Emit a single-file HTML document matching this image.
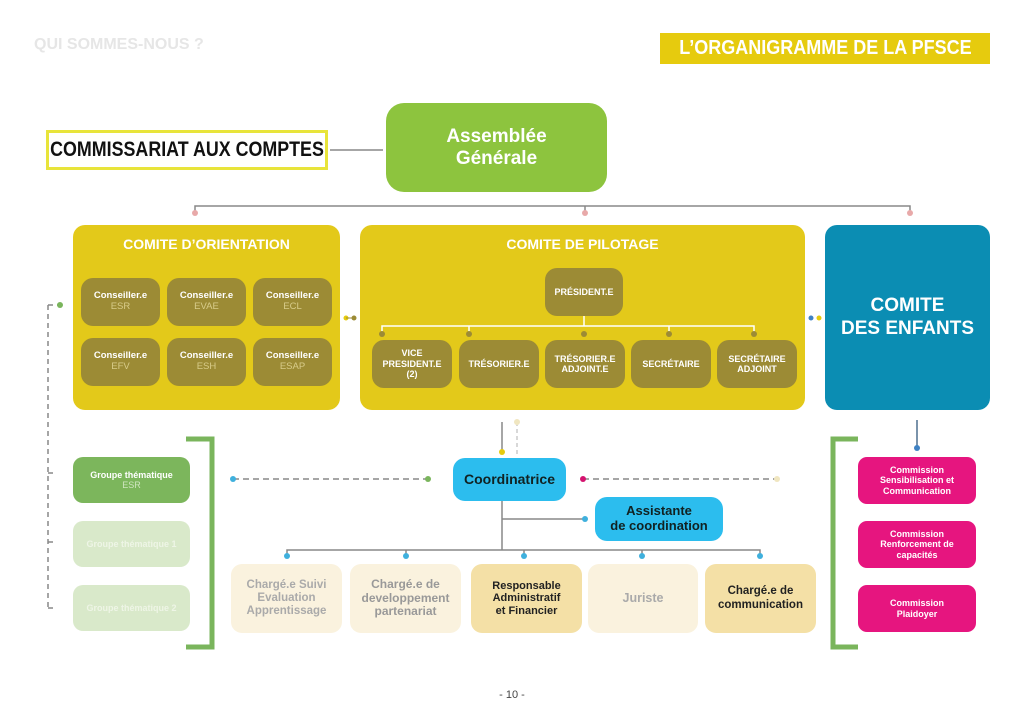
<!DOCTYPE html>
<html><head><meta charset="utf-8"><style>
*{margin:0;padding:0;box-sizing:border-box}
body{width:1024px;height:722px;background:#fff;position:relative;overflow:hidden;font-family:"Liberation Sans",sans-serif}
.b{position:absolute;display:flex;align-items:center;justify-content:center;text-align:center;font-weight:bold;line-height:1.15}
.c{background:#9c8b35;color:#fff;border-radius:12px;font-size:9.5px;flex-direction:column}
.c span{font-weight:normal;color:#d8cc8a}
.p{background:#9c8b35;color:#fff;border-radius:12px;font-size:9px}
.m{background:#e6157f;color:#fff;border-radius:9px;font-size:9px}
.w{border-radius:11px;font-size:12px}
svg{position:absolute;left:0;top:0}
</style></head><body>
<div class="b" style="left:34px;top:36px;font-size:16px;color:#e6e6e6;justify-content:flex-start">QUI SOMMES-NOUS ?</div>
<div class="b" style="left:660px;top:33px;width:330px;height:31px;background:#e6cb0e;color:#fff;font-size:20px;white-space:nowrap"><span style="display:inline-block;transform:scaleX(0.9)">L’ORGANIGRAMME DE LA PFSCE</span></div>
<div class="b" style="left:46px;top:130px;width:282px;height:40px;border:3px solid #e8e43a;color:#111;font-size:21px;white-space:nowrap"><span style="display:inline-block;transform:scaleX(0.85)">COMMISSARIAT AUX COMPTES</span></div>
<div class="b" style="left:386px;top:103px;width:221px;height:89px;background:#8dc43e;color:#fff;border-radius:18px;font-size:19px">Assemblée<br>Générale</div>

<svg width="1024" height="722">
<g stroke="#888" stroke-width="1.5" fill="none">
<line x1="330" y1="150" x2="383" y2="150"/>
<path d="M195 213V206H910V213M585 206V213"/>
<line x1="502" y1="422" x2="502" y2="452"/>
<line x1="517" y1="422" x2="517" y2="455" stroke="#ccc" stroke-dasharray="4 3"/>
<path d="M502 501V550M502 519H585M287 556V550H760V556M406 550V556M524 550V556M642 550V556"/>
<line x1="917" y1="420" x2="917" y2="448" stroke="#4d6f8f"/>
<line x1="233" y1="479" x2="428" y2="479" stroke-dasharray="6 4"/>
<line x1="583" y1="479" x2="777" y2="479" stroke-dasharray="6 4"/>
<path d="M48 305V608M48 305H60M48 473H56M48 542H56M48 608H56" stroke-dasharray="5 4"/>
</g>
<path d="M186 439H212V647H186M858 439H833V647H858" stroke="#7ab55c" stroke-width="5" fill="none"/>
<g fill="#e8a9a9"><circle cx="195" cy="213" r="3"/><circle cx="585" cy="213" r="3"/><circle cx="910" cy="213" r="3"/></g>
<g fill="#3fb0dd"><circle cx="233" cy="479" r="3"/><circle cx="287" cy="556" r="3"/><circle cx="406" cy="556" r="3"/><circle cx="524" cy="556" r="3"/><circle cx="642" cy="556" r="3"/><circle cx="760" cy="556" r="3"/><circle cx="585" cy="519" r="3"/></g>
<circle cx="428" cy="479" r="3" fill="#7ab55c"/><circle cx="60" cy="305" r="3" fill="#7ab55c"/>
<circle cx="583" cy="479" r="3" fill="#d4136f"/><circle cx="777" cy="479" r="3" fill="#f0e6c0"/>
<circle cx="502" cy="452" r="3" fill="#e6cb0e"/><circle cx="517" cy="422" r="3" fill="#f0e6c0"/>
<circle cx="917" cy="448" r="3" fill="#3f82c4"/>
<circle cx="346" cy="318" r="2.5" fill="#e6cb0e"/><circle cx="354" cy="318" r="2.5" fill="#9c8b35"/><line x1="346" y1="318" x2="354" y2="318" stroke="#9c8b35"/>
<circle cx="811" cy="318" r="2.5" fill="#3f82c4"/><circle cx="819" cy="318" r="2.5" fill="#e6cb0e"/>
</svg>

<div class="b" style="left:73px;top:225px;width:267px;height:185px;background:#e3c91a;border-radius:12px;align-items:flex-start;padding-top:11px;color:#fff;font-size:14px">COMITE D’ORIENTATION</div>
<div class="b c" style="left:81px;top:278px;width:79px;height:48px">Conseiller.e<span>ESR</span></div>
<div class="b c" style="left:167px;top:278px;width:79px;height:48px">Conseiller.e<span>EVAE</span></div>
<div class="b c" style="left:253px;top:278px;width:79px;height:48px">Conseiller.e<span>ECL</span></div>
<div class="b c" style="left:81px;top:338px;width:79px;height:48px">Conseiller.e<span>EFV</span></div>
<div class="b c" style="left:167px;top:338px;width:79px;height:48px">Conseiller.e<span>ESH</span></div>
<div class="b c" style="left:253px;top:338px;width:79px;height:48px">Conseiller.e<span>ESAP</span></div>

<div class="b" style="left:360px;top:225px;width:445px;height:185px;background:#e3c91a;border-radius:12px;align-items:flex-start;padding-top:11px;color:#fff;font-size:14px">COMITE DE PILOTAGE</div>
<svg width="1024" height="722"><g stroke="#fff" stroke-width="1.5" fill="none"><path d="M584 316V326M382 333V326H754V333M469 326V333M669 326V333"/></g>
<g fill="#9c8b35"><circle cx="382" cy="334" r="3"/><circle cx="469" cy="334" r="3"/><circle cx="584" cy="334" r="3"/><circle cx="669" cy="334" r="3"/><circle cx="754" cy="334" r="3"/></g></svg>
<div class="b p" style="left:545px;top:268px;width:78px;height:48px">PRÉSIDENT.E</div>
<div class="b p" style="left:372px;top:340px;width:80px;height:48px">VICE<br>PRESIDENT.E<br>(2)</div>
<div class="b p" style="left:459px;top:340px;width:80px;height:48px">TRÉSORIER.E</div>
<div class="b p" style="left:545px;top:340px;width:80px;height:48px">TRÉSORIER.E<br>ADJOINT.E</div>
<div class="b p" style="left:631px;top:340px;width:80px;height:48px">SECRÉTAIRE</div>
<div class="b p" style="left:717px;top:340px;width:80px;height:48px">SECRÉTAIRE<br>ADJOINT</div>

<div class="b" style="left:825px;top:225px;width:165px;height:185px;background:#0b8db3;border-radius:12px;color:#fff;font-size:19px;line-height:1.2">COMITE<br>DES ENFANTS</div>

<div class="b" style="left:73px;top:457px;width:117px;height:46px;background:#7cb65c;border-radius:10px;color:#fff;font-size:9px;flex-direction:column">Groupe thématique<span style="font-weight:normal;color:#cfe5bf">ESR</span></div>
<div class="b" style="left:73px;top:521px;width:117px;height:46px;background:#d9e9ca;border-radius:10px;color:#eef5e6;font-size:9px">Groupe thématique 1</div>
<div class="b" style="left:73px;top:585px;width:117px;height:46px;background:#d9e9ca;border-radius:10px;color:#eef5e6;font-size:9px">Groupe thématique 2</div>

<div class="b" style="left:453px;top:458px;width:113px;height:43px;background:#2cbdee;border-radius:12px;color:#122;font-size:14px">Coordinatrice</div>
<div class="b" style="left:595px;top:497px;width:128px;height:44px;background:#2cbdee;border-radius:12px;color:#122;font-size:13px">Assistante<br>de coordination</div>

<div class="b w" style="left:231px;top:564px;width:111px;height:69px;background:#faf2de;color:#aaa;font-size:11.5px">Chargé.e Suivi<br>Evaluation<br>Apprentissage</div>
<div class="b w" style="left:350px;top:564px;width:111px;height:69px;background:#faf2de;color:#999;font-size:12px">Chargé.e de<br>developpement<br>partenariat</div>
<div class="b w" style="left:471px;top:564px;width:111px;height:69px;background:#f4e0a6;color:#222;font-size:11px">Responsable<br>Administratif<br>et Financier</div>
<div class="b w" style="left:588px;top:564px;width:110px;height:69px;background:#faf2de;color:#aaa;font-size:12.5px">Juriste</div>
<div class="b w" style="left:705px;top:564px;width:111px;height:69px;background:#f4e0a6;color:#222;font-size:11.5px">Chargé.e de<br>communication</div>

<div class="b m" style="left:858px;top:457px;width:118px;height:47px">Commission<br>Sensibilisation et<br>Communication</div>
<div class="b m" style="left:858px;top:521px;width:118px;height:47px">Commission<br>Renforcement de<br>capacités</div>
<div class="b m" style="left:858px;top:585px;width:118px;height:47px">Commission<br>Plaidoyer</div>

<div class="b" style="left:462px;top:689px;width:100px;font-size:11px;font-weight:normal;color:#444">- 10 -</div>
</body></html>
